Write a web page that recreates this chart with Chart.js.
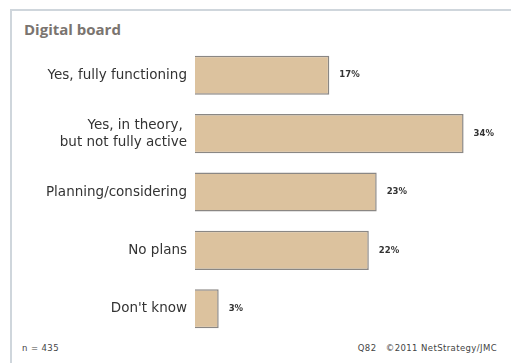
<!DOCTYPE html>
<html lang="en">
  <head>
    <meta charset="UTF-8" />
    <title>Digital board</title>
    <script src="https://cdn.jsdelivr.net/npm/chart.js@4"></script>
    <style>
      html, body { margin: 0; padding: 0; background: #fff; }
      #wrap { position: relative; width: 511px; height: 363px; overflow: hidden; }
      #frame {
        position: absolute; left: 10px; top: 9px; width: 520px; height: 380px;
        border-left: 2px solid #cfd6dc; border-top: 2px solid #cfd6dc;
      }
      #title {
        position: absolute; left: 24px; top: 19px;
        font: bold 15px "Open Sans", sans-serif; color: #7a746f;
      }
      .note {
        position: absolute; top: 343px; font: 8.5px "DejaVu Sans", sans-serif;
        color: #444; letter-spacing: 0.4px;
      }
      #box { position: absolute; left: 0; top: 0; width: 511px; height: 363px; }
    </style>
  </head>
  <body>
    <div id="wrap">
      <div id="frame"></div>
      <div id="title">Digital board</div>
      <div class="note" style="left: 22px">n = 435</div>
      <div class="note" style="right: 14px">Q82&nbsp;&nbsp;&nbsp;©2011 NetStrategy/JMC</div>
      <div id="box"><canvas id="myChart"></canvas></div>
    </div>
    <script>
      // data
      const categories = [
        "Yes, fully functioning",
        ["Yes, in theory, ", "but not fully active"],
        "Planning/considering",
        "No plans",
        "Don't know",
      ];
      const shares = [17, 34, 23, 22, 3];
      const valueLabels = ["17%", "34%", "23%", "22%", "3%"];

      // draw the % next to each bar
      const barLabels = {
        id: "barLabels",
        afterDatasetsDraw(chart) {
          const ctx = chart.ctx;
          const meta = chart.getDatasetMeta(0);
          ctx.save();
          ctx.font = "bold 8.5px 'DejaVu Sans', sans-serif";
          ctx.fillStyle = "#333";
          ctx.textBaseline = "middle";
          meta.data.forEach((bar, i) => {
            ctx.fillText(valueLabels[i], bar.x + 10, bar.y);
          });
          ctx.restore();
        },
      };

      const ctx = document.getElementById("myChart").getContext("2d");
      const chart = new Chart(ctx, {
        type: "bar",
        data: {
          labels: categories,
          datasets: [
            {
              data: shares,
              backgroundColor: "#dcc29e",
              borderColor: "#8a8784",
              borderWidth: 1.5,
              categoryPercentage: 0.67,
              barPercentage: 1,
            },
          ],
        },
        options: {
          indexAxis: "y",
          responsive: true,
          maintainAspectRatio: false,
          animation: false,
          layout: { padding: { top: 46, bottom: 25, right: 0, left: 0 } },
          plugins: { legend: { display: false }, tooltip: { enabled: false } },
          scales: {
            x: {
              min: 0,
              max: 40,
              display: false,
            },
            y: {
              grid: { display: false },
              border: { display: false },
              ticks: {
                color: "#333",
                padding: 0,
                font: { family: "DejaVu Sans", size: 13.5, lineHeight: 1.25 },
              },
              afterFit(axis) {
                axis.width = 195;
              },
            },
          },
        },
        plugins: [barLabels],
      });
    </script>
  </body>
</html>
